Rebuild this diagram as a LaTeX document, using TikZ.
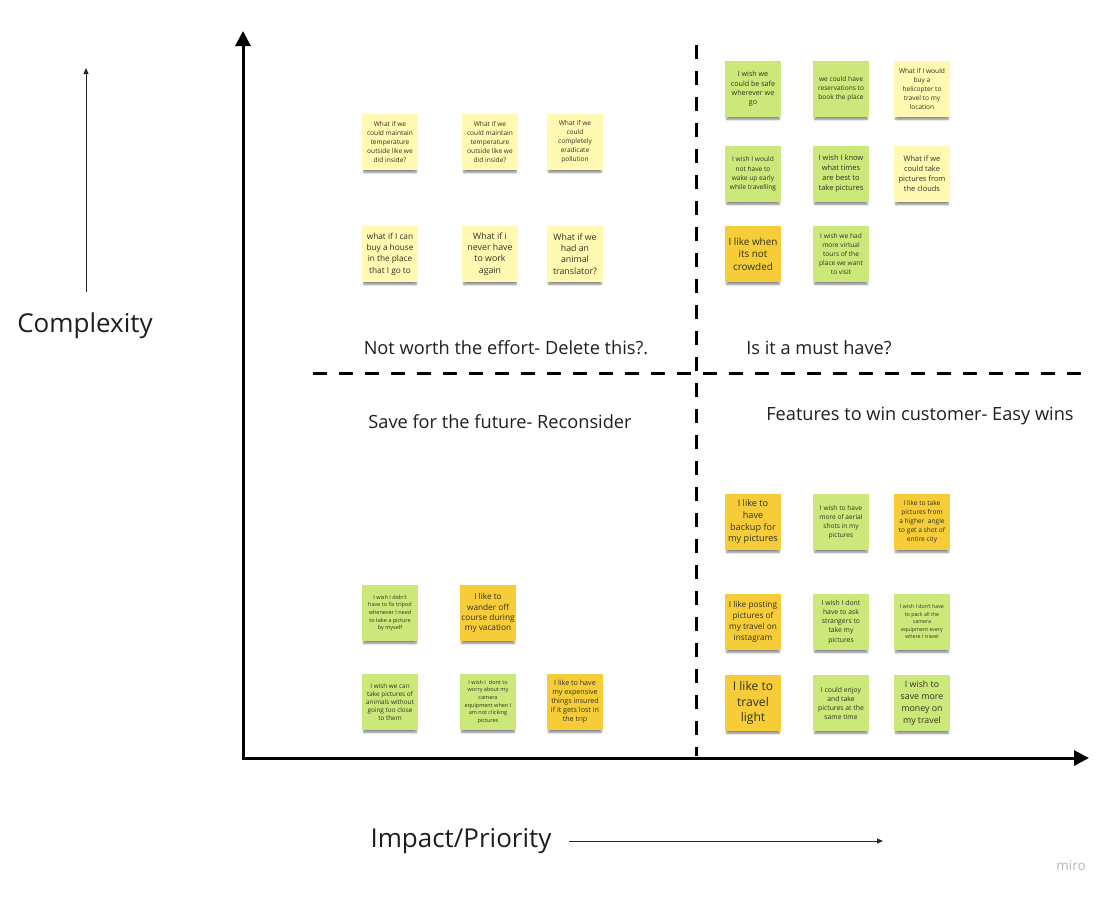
\documentclass[tikz,border=0pt]{standalone}
\usepackage{fontspec}
\setmainfont{Open Sans}
\usetikzlibrary{arrows.meta,shadows.blur}
\definecolor{paleyellow}{HTML}{FFF9B1}
\definecolor{limegreen}{HTML}{CDE87A}
\definecolor{golden}{HTML}{F6CD38}
\definecolor{notetext}{HTML}{33331F}
% note font: size scaled up by 10%, baseline skip as given
\newcommand\notesize[2]{\fontsize{\dimexpr #1pt*110/100\relax}{#2pt}\selectfont}
\tikzset{
  note/.style={minimum width=56pt, minimum height=56pt, inner sep=0pt, align=center,
    text=notetext,
    blur shadow={shadow xshift=0pt, shadow yshift=-4.5pt, shadow scale=0.93,
      shadow opacity=50, shadow blur steps=6, shadow blur radius=2.2pt}},
  ly/.style={note, fill=paleyellow},
  gr/.style={note, fill=limegreen},
  og/.style={note, fill=golden},
  axis/.style={line width=3pt, -{Triangle[length=15pt,width=15pt]}},
  divider/.style={line width=3pt, dash pattern=on 14pt off 12pt},
  thin arrow/.style={line width=0.9pt, -{Triangle[length=6pt,width=5pt]}, draw=black!85},
  quad/.style={font=\fontsize{18.2}{22}\selectfont, text=black!88},
  title/.style={font=\fontsize{26}{30}\selectfont, text=black!88},
}
\begin{document}
\begin{tikzpicture}[x=1pt,y=-1pt]
\useasboundingbox (0,0) rectangle (1113,897);

% axes and quadrant dividers
\coordinate (origin) at (243,758);
\coordinate (ytop) at (243,31);
\coordinate (xend) at (1089,758);
\draw[axis] (origin) -- (ytop);
\draw[axis] ([xshift=-1.5pt]origin) -- (xend);
\coordinate (vtop) at (696,45);
\coordinate (vbot) at (696,756);
\coordinate (hleft) at (313,373);
\coordinate (hright) at (1085,373);
\draw[divider] (vtop) -- (vbot);
\draw[divider] (hleft) -- (hright);

% axis titles
\node[title] (complexity) at (85,326) {Complexity};
\coordinate (cbot) at (86,292);
\coordinate (ctop) at (86,68);
\draw[thin arrow] (cbot) -- (ctop);
\node[title] (impact) at (461,841) {Impact/Priority};
\coordinate (ileft) at (569,841);
\coordinate (iright) at (883,841);
\draw[thin arrow] (ileft) -- (iright);

% quadrant titles
\node[quad] (q1) at (506,348) {Not worth the effort- Delete this?.};
\node[quad] (q2) at (819,348) {Is it a must have?};
\node[quad] (q3) at (500,422) {Save for the future- Reconsider};
\node[quad] (q4) at (920,416) {Features to win customer- Easy wins};

% top-left quadrant
\node[ly, font=\notesize{6}{9}] (n1) at (390,142) {What if we\\could maintain\\temperature\\outside like we\\did inside?};
\node[ly, font=\notesize{6}{9}] (n2) at (490,142) {What if we\\could maintain\\temperature\\outside like we\\did inside?};
\node[ly, font=\notesize{6}{9}] (n3) at (575,142) {What if we\\could\\completely\\eradicate\\pollution};
\node[ly, font=\notesize{7.5}{11.3}] (n4) at (390,254) {what if I can\\buy a house\\in the place\\that I go to};
\node[ly, font=\notesize{8}{11.3}] (n5) at (490,254) {What if i\\never have\\to work\\again};
\node[ly, font=\notesize{8}{11.3}] (n6) at (575,254) {What if we\\had an\\animal\\translator?};

% top-right quadrant
\node[gr, font=\notesize{6.5}{9.3}] (m1) at (753,89) {I wish we\\could be safe\\wherever we\\go};
\node[gr, font=\notesize{6}{9}] (m2) at (841,89) {we could have\\reservations to\\book the place};
\node[ly, font=\notesize{6}{9}] (m3) at (922,89) {What if I would\\buy a\\helicopter to\\travel to my\\location};
\node[gr, font=\notesize{6}{9.2}] (m4) at (753,174) {I wish I would\\not have to\\wake up early\\while travelling};
\node[gr, font=\notesize{6.8}{10}] (m5) at (841,174) {I wish I know\\what times\\are best to\\take pictures};
\node[ly, font=\notesize{6.8}{10}] (m6) at (922,174) {What if we\\could take\\pictures from\\the clouds};
\node[og, font=\notesize{9}{12.5}] (m7) at (753,254) {I like when\\its not\\crowded};
\node[gr, font=\notesize{6}{8.9}] (m8) at (841,254) {I wish we had\\more virtual\\tours of the\\place we want\\to visit};

% bottom-left quadrant
\node[gr, font=\notesize{5}{7.7}] (b1) at (390,613) {I wish I didn't\\have to fix tripod\\whenever I need\\to take a picture\\by myself};
\node[og, font=\notesize{7.5}{10.2}] (b2) at (488,613) {I like to\\wander off\\course during\\my vacation};
\node[gr, font=\notesize{5.8}{8.2}] (b3) at (390,702) {I wish we can\\take pictures of\\animals without\\going too close\\to them};
\node[gr, font=\notesize{5}{7.7}] (b4) at (488,702) {I wish I\ \ dont to\\worry about my\\camera\\equipment when I\\am not clicking\\pictures};
\node[og, font=\notesize{6.5}{9}] (b5) at (575,702) {I like to have\\my expensive\\things insured\\if it gets lost in\\the trip};

% bottom-right quadrant
\node[og, font=\notesize{8.3}{11.7}] (r1) at (753,522) {I like to\\have\\backup for\\my pictures};
\node[gr, font=\notesize{6}{9.1}] (r2) at (841,522) {I wish to have\\more of aerial\\shots in my\\pictures};
\node[og, font=\notesize{6}{9}] (r3) at (922,522) {I like to take\\pictures from\\a higher\ \ angle\\to get a shot of\\entire city};
\node[og, font=\notesize{7.5}{11.1}] (r4) at (753,622) {I like posting\\pictures of\\my travel on\\instagram};
\node[gr, font=\notesize{6.2}{9.2}] (r5) at (841,622) {I wish I dont\\have to ask\\strangers to\\take my\\pictures};
\node[gr, font=\notesize{4.8}{7.5}] (r6) at (922,622) {I wish I don't have\\to pack all the\\camera\\equipment every\\where I travel};
\node[og, font=\notesize{11}{15.7}] (r7) at (753,703) {I like to\\travel\\light};
\node[gr, font=\notesize{6.2}{9}] (r8) at (841,703) {I could enjoy\\and take\\pictures at the\\same time};
\node[gr, font=\notesize{8}{11.9}] (r9) at (922,703) {I wish to\\save more\\money on\\my travel};

% watermark
\node[font=\fontsize{13.5}{16}\selectfont, text=black!28] (miro) at (1071,866) {miro};
\end{tikzpicture}
\end{document}
